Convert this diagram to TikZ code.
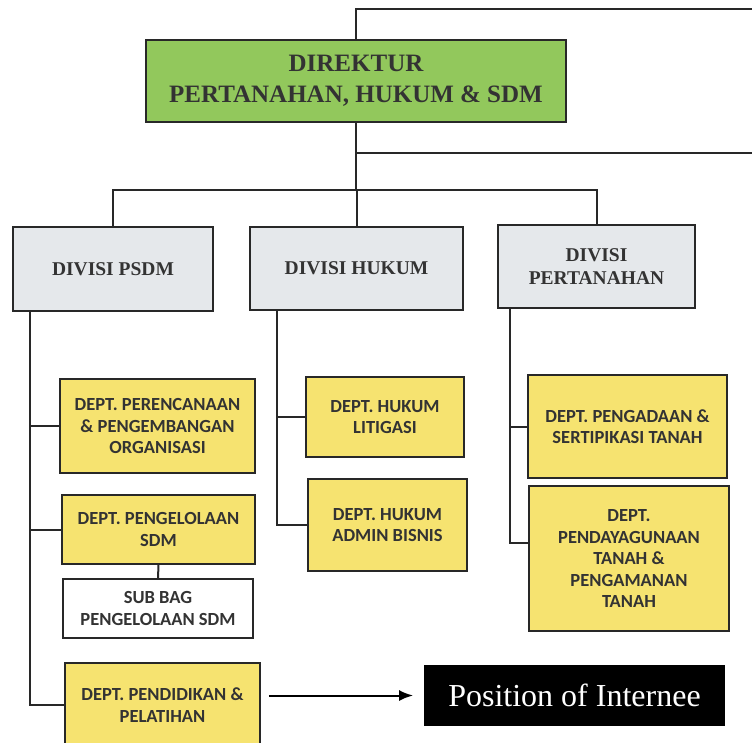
\documentclass[tikz,border=0pt]{standalone}
\usepackage{fontspec}
\setmainfont{Liberation Serif}
\newfontfamily\deptfont{Carlito}
\usetikzlibrary{arrows.meta}

\definecolor{dirgreen}{RGB}{146,200,92}
\definecolor{deptyellow}{RGB}{246,227,112}
\definecolor{divgray}{RGB}{229,232,235}
\definecolor{linegray}{RGB}{40,40,40}

\tikzset{
  box/.style={draw=linegray, line width=1.8pt, inner sep=0pt, align=center, text=black!80},
  dirbox/.style={box, fill=dirgreen, font=\bfseries\fontsize{25}{31}\selectfont},
  divbox/.style={box, fill=divgray, font=\bfseries\fontsize{19.5}{23}\selectfont},
  deptbox/.style={box, fill=deptyellow, font=\deptfont\bfseries\fontsize{18.5}{21.5}\selectfont},
  subbox/.style={box, fill=white, font=\deptfont\bfseries\fontsize{18.5}{21.5}\selectfont},
  link/.style={draw=linegray, line width=2pt},
  arrow/.style={draw=black, line width=2pt, -{Latex[length=14pt,width=11pt]}}
}

\begin{document}
\begin{tikzpicture}[x=1pt, y=-1pt]
  \useasboundingbox (0,0) rectangle (752,742);
  \clip (0,0) rectangle (752,742);

  % Draw director
  \node[dirbox, minimum width=420, minimum height=82] (dir) at (356,81)
    {DIREKTUR\\PERTANAHAN, HUKUM \& SDM};

  % Draw divisions
  \node[divbox, minimum width=200, minimum height=84] (psdm) at (113,269) {DIVISI PSDM};
  \node[divbox, minimum width=213, minimum height=83] (hukum) at (356.5,268.5) {DIVISI HUKUM};
  \node[divbox, minimum width=197, minimum height=83] (tanah) at (596.5,266.5) {DIVISI\\PERTANAHAN};

  % Draw departments
  \node[deptbox, minimum width=195, minimum height=94] (perenc) at (157.5,426)
    {DEPT. PERENCANAAN\\\& PENGEMBANGAN\\ORGANISASI};
  \node[deptbox, minimum width=193, minimum height=69] (pengel) at (158.5,529.5)
    {DEPT. PENGELOLAAN\\SDM};
  \node[subbox, minimum width=190, minimum height=59] (subbag) at (158,608.5)
    {SUB BAG\\PENGELOLAAN SDM};
  \node[deptbox, minimum width=195, minimum height=84] (pendid) at (162.5,705)
    {DEPT. PENDIDIKAN \&\\PELATIHAN};
  \node[deptbox, minimum width=158, minimum height=80] (litig) at (385,417)
    {DEPT. HUKUM\\LITIGASI};
  \node[deptbox, minimum width=159, minimum height=92] (admin) at (387.5,525)
    {DEPT. HUKUM\\ADMIN BISNIS};
  \node[deptbox, minimum width=199, minimum height=103] (pengad) at (627.5,426.5)
    {DEPT. PENGADAAN \&\\SERTIPIKASI TANAH};
  \node[deptbox, minimum width=200, minimum height=145] (pendaya) at (629,558.5)
    {DEPT.\\PENDAYAGUNAAN\\TANAH \&\\PENGAMANAN\\TANAH};

  % Draw internee label
  \node[box, draw=black, fill=black, text=white, minimum width=299, minimum height=59,
    font=\fontsize{32}{36}\selectfont] (intern) at (574.5,695.5) {Position of Internee};

  % Draw top lines
  \coordinate (topR) at (752,9);
  \coordinate (midR) at (752,153);
  \coordinate (bus) at (356,190);
  \draw[link] (dir.north) |- (topR);
  \draw[link] (dir.south |- midR) -- (midR);
  \draw[link] (dir.south) -- (bus);
  \draw[link] (psdm.north) |- (bus) -| (tanah.north);
  \draw[link] (bus) -- (bus -| hukum.north) -- (hukum.north);

  % Draw department lines
  \foreach \d in {perenc,pengel,pendid}
    \draw[link] ([xshift=18pt]psdm.south west) |- (\d.west);
  \foreach \d in {litig,admin}
    \draw[link] ([xshift=28pt]hukum.south west) |- (\d.west);
  \draw[link] ([xshift=13pt]tanah.south west) |- (pengad.west);
  \draw[link] ([xshift=13pt]tanah.south west) |- ([yshift=16pt]pendaya.west);
  \draw[link] (pengel.south) -- (subbag.north);

  % Draw arrow
  \draw[arrow, shorten <=8pt, shorten >=11pt] (intern.west -| pendid.east) -- (intern.west);
\end{tikzpicture}
\end{document}
